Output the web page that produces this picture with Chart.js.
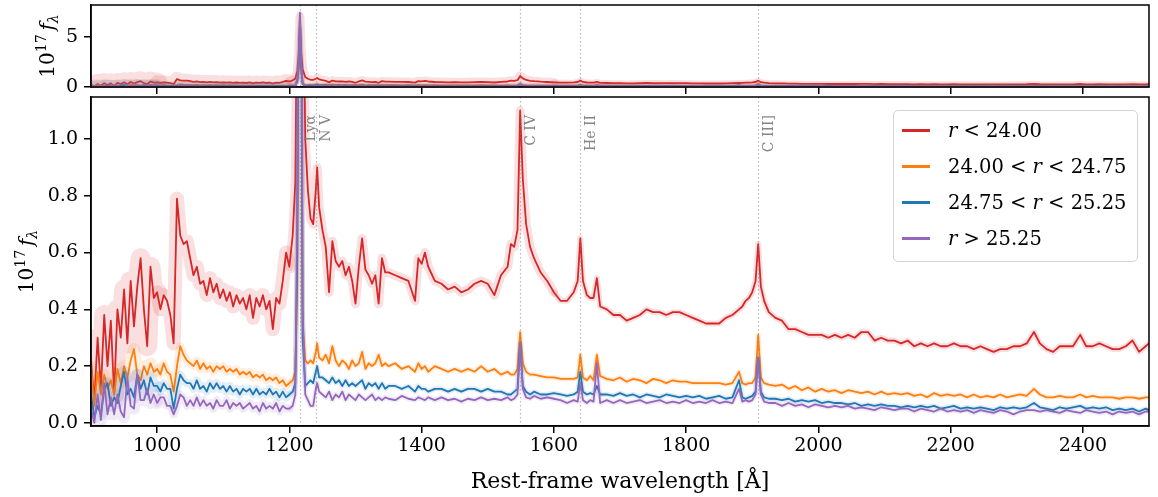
<!DOCTYPE html>
<html><head><meta charset="utf-8">
<script src="https://cdn.jsdelivr.net/npm/chart.js@4.4.1/dist/chart.umd.min.js"></script>
<style>
html,body{margin:0;padding:0;background:#fff;}
#wrap{position:relative;width:1158px;height:497px;overflow:hidden;}
canvas{position:absolute;left:0;top:0;}
#legend{position:absolute;left:893px;top:110px;width:245px;height:152px;border:1px solid #d4d4d4;border-radius:5px;background:rgba(255,255,255,0.85);font-family:"DejaVu Serif",serif;font-size:19.5px;color:#000;box-sizing:border-box;}
.row{position:absolute;left:0;height:24px;line-height:24px;white-space:nowrap;}
.sw{position:absolute;left:8px;top:10px;width:28px;height:3px;}
.tx{position:absolute;left:54px;top:0;word-spacing:0px;}
</style></head>
<body>
<div id="wrap">
<canvas id="main" width="1158" height="497"></canvas>
<canvas id="top" width="1158" height="96"></canvas>
<div id="legend"></div>
</div>
<script>
// ---- data (rest-frame wavelength in Angstrom, flux in 1e-17 units) ----
const wave = [
 900,905,910,915,920,925,930,935,940,945,950,955,960,965,970,975,980,985,990,995,
 1000,1005,1010,1015,1020,1025,1030,1035,1040,1045,1050,1055,1060,1065,1070,1075,1080,1085,1090,1095,
 1100,1105,1110,1115,1120,1125,1130,1135,1140,1145,1150,1155,1160,1165,1170,1175,1180,1185,1190,1195,1200,
 1205,1209,1212,1214,1216,1218,1220,1224,1228,1232,1236,1240,1242,1245,
 1250,1255,1260,1265,1270,1275,1280,1285,1290,1295,1300,1305,1310,1315,1320,1325,1330,1335,1340,1345,1350,
 1360,1370,1380,1390,1395,1400,1405,1410,1420,1430,1440,1450,1460,1470,1480,1490,1500,1510,1520,1530,
 1535,1540,1545,1549,1553,1558,1564,1570,1580,1590,1600,1610,1620,1630,
 1636,1640,1644,1650,1655,1660,1665,1670,1680,1690,1700,1710,1720,1730,1740,1750,1760,1770,1780,1790,
 1800,1810,1820,1830,1840,1850,1860,1870,1880,1885,1890,1895,1900,1905,1909,1913,1918,1925,
 1935,1945,1955,1965,1975,1985,1995,2005,2015,2025,2035,2045,2055,2065,2075,2085,2095,2105,2115,2125,
 2135,2145,2155,2165,2175,2185,2195,2205,2215,2225,2235,2245,2255,2265,2275,2285,2295,2305,2315,
 2326,2335,2345,2355,2365,2375,2385,2396,2405,2415,2425,2435,2445,2455,2465,2475,2485,2495,2500
];
const fluxBright = [
 0.22,0.08,0.30,0.12,0.38,0.20,0.36,0.10,0.40,0.30,0.47,0.28,0.50,0.34,0.48,0.58,0.40,0.27,0.55,0.44,
 0.46,0.40,0.45,0.43,0.38,0.28,0.79,0.66,0.63,0.64,0.58,0.52,0.55,0.49,0.50,0.45,0.51,0.46,0.49,0.44,
 0.47,0.43,0.46,0.41,0.45,0.42,0.44,0.40,0.45,0.37,0.44,0.41,0.45,0.40,0.43,0.33,0.44,0.42,0.50,0.60,0.55,
 0.66,0.85,1.6,3.2,7.0,3.4,1.8,1.0,0.82,0.72,0.70,0.82,0.90,0.76,
 0.68,0.62,0.46,0.64,0.57,0.55,0.57,0.52,0.55,0.50,0.42,0.55,0.65,0.54,0.52,0.49,0.52,0.42,0.58,0.53,0.53,
 0.52,0.51,0.50,0.43,0.58,0.56,0.60,0.55,0.50,0.49,0.47,0.48,0.46,0.47,0.49,0.50,0.49,0.45,0.52,0.55,
 0.63,0.62,0.68,1.10,0.86,0.70,0.62,0.58,0.53,0.50,0.46,0.43,0.43,0.46,
 0.50,0.65,0.50,0.45,0.44,0.44,0.51,0.41,0.40,0.38,0.38,0.36,0.37,0.38,0.40,0.39,0.39,0.38,0.39,0.39,
 0.38,0.37,0.36,0.35,0.35,0.35,0.37,0.38,0.40,0.41,0.43,0.44,0.46,0.50,0.63,0.48,0.43,0.39,
 0.37,0.36,0.33,0.33,0.32,0.31,0.31,0.31,0.30,0.31,0.30,0.31,0.30,0.32,0.32,0.29,0.30,0.29,0.29,0.28,
 0.29,0.27,0.28,0.27,0.28,0.27,0.27,0.28,0.27,0.27,0.26,0.27,0.26,0.25,0.26,0.26,0.27,0.27,0.28,
 0.32,0.28,0.26,0.25,0.27,0.27,0.27,0.31,0.27,0.27,0.28,0.27,0.26,0.26,0.27,0.29,0.25,0.27,0.28
];
const fluxMid1 = [
 0.20,0.06,0.18,0.10,0.17,0.12,0.15,0.10,0.19,0.14,0.20,0.16,0.22,0.26,0.17,0.15,0.20,0.17,0.21,0.18,
 0.19,0.17,0.21,0.18,0.17,0.11,0.20,0.27,0.24,0.22,0.21,0.20,0.22,0.19,0.21,0.19,0.20,0.18,0.20,0.19,
 0.20,0.18,0.19,0.18,0.19,0.17,0.18,0.17,0.18,0.16,0.17,0.16,0.17,0.15,0.16,0.15,0.16,0.14,0.15,0.13,0.14,
 0.15,0.18,0.5,1.6,5.0,1.5,0.35,0.22,0.21,0.22,0.21,0.25,0.28,0.23,
 0.22,0.24,0.21,0.27,0.22,0.20,0.22,0.21,0.19,0.22,0.20,0.21,0.25,0.19,0.21,0.20,0.21,0.24,0.20,0.21,0.20,
 0.21,0.19,0.20,0.18,0.21,0.19,0.20,0.18,0.20,0.19,0.18,0.19,0.18,0.19,0.18,0.20,0.18,0.19,0.17,0.18,
 0.17,0.17,0.19,0.32,0.21,0.18,0.17,0.17,0.165,0.16,0.16,0.155,0.155,0.155,
 0.16,0.24,0.16,0.15,0.165,0.15,0.24,0.165,0.155,0.15,0.16,0.145,0.155,0.15,0.14,0.155,0.15,0.14,0.15,0.145,
 0.145,0.14,0.14,0.14,0.14,0.14,0.135,0.14,0.18,0.14,0.135,0.14,0.14,0.16,0.31,0.16,0.14,0.135,
 0.13,0.135,0.12,0.13,0.115,0.125,0.11,0.12,0.11,0.115,0.105,0.115,0.11,0.105,0.11,0.10,0.11,0.10,0.105,0.10,
 0.105,0.095,0.10,0.09,0.105,0.095,0.10,0.095,0.10,0.09,0.10,0.09,0.095,0.09,0.10,0.09,0.095,0.10,0.095,
 0.12,0.10,0.09,0.09,0.095,0.09,0.09,0.10,0.09,0.095,0.09,0.09,0.09,0.085,0.09,0.09,0.085,0.09,0.09
];
const fluxMid2 = [
 0.10,0.02,0.06,0.03,0.12,0.14,0.06,0.09,0.07,0.13,0.18,0.10,0.12,0.09,0.17,0.12,0.15,0.10,0.16,0.13,
 0.13,0.11,0.14,0.12,0.12,0.05,0.12,0.17,0.15,0.14,0.14,0.12,0.15,0.12,0.13,0.11,0.14,0.12,0.14,0.12,
 0.13,0.11,0.13,0.11,0.12,0.10,0.12,0.11,0.12,0.10,0.12,0.10,0.11,0.10,0.12,0.10,0.11,0.09,0.11,0.09,0.10,
 0.11,0.14,0.6,2.0,5.8,1.8,0.3,0.13,0.14,0.15,0.14,0.18,0.20,0.16,
 0.16,0.15,0.14,0.16,0.14,0.15,0.13,0.15,0.13,0.14,0.13,0.14,0.15,0.12,0.14,0.13,0.14,0.12,0.14,0.12,0.13,
 0.13,0.12,0.13,0.11,0.13,0.12,0.12,0.11,0.12,0.12,0.11,0.12,0.11,0.12,0.12,0.11,0.12,0.11,0.11,0.10,
 0.10,0.11,0.12,0.28,0.13,0.11,0.10,0.11,0.10,0.10,0.105,0.10,0.095,0.10,
 0.11,0.18,0.11,0.10,0.105,0.10,0.13,0.10,0.10,0.095,0.105,0.095,0.10,0.09,0.10,0.095,0.09,0.10,0.095,0.09,
 0.095,0.09,0.095,0.085,0.09,0.095,0.085,0.09,0.15,0.09,0.085,0.09,0.095,0.11,0.23,0.11,0.09,0.085,
 0.085,0.08,0.085,0.075,0.08,0.075,0.08,0.07,0.075,0.07,0.07,0.065,0.07,0.06,0.065,0.06,0.065,0.06,0.06,0.055,
 0.06,0.055,0.06,0.055,0.06,0.05,0.055,0.06,0.05,0.055,0.05,0.055,0.05,0.045,0.055,0.05,0.055,0.05,0.055,
 0.07,0.055,0.05,0.045,0.055,0.05,0.055,0.06,0.05,0.055,0.05,0.055,0.045,0.05,0.045,0.05,0.04,0.05,0.045
];
const fluxFaint = [
 0.05,0.00,0.10,0.01,0.14,0.03,0.09,0.03,0.10,0.04,0.02,0.16,0.06,0.05,0.17,0.08,0.08,0.12,0.07,0.10,
 0.07,0.09,0.09,0.06,0.06,0.03,0.06,0.10,0.09,0.06,0.08,0.06,0.09,0.06,0.08,0.06,0.07,0.05,0.08,0.06,
 0.06,0.08,0.05,0.07,0.06,0.07,0.05,0.06,0.07,0.05,0.06,0.04,0.07,0.05,0.06,0.05,0.07,0.04,0.06,0.05,0.05,
 0.06,0.10,0.8,2.6,7.4,2.4,0.4,0.10,0.08,0.06,0.06,0.12,0.14,0.11,
 0.10,0.09,0.11,0.08,0.10,0.09,0.11,0.08,0.10,0.09,0.08,0.10,0.09,0.08,0.09,0.10,0.08,0.09,0.08,0.09,0.085,
 0.08,0.095,0.085,0.08,0.09,0.085,0.08,0.09,0.08,0.09,0.08,0.085,0.075,0.085,0.08,0.09,0.08,0.085,0.08,0.09,
 0.08,0.085,0.10,0.28,0.12,0.09,0.085,0.095,0.085,0.09,0.085,0.08,0.07,0.08,
 0.075,0.14,0.08,0.07,0.08,0.075,0.21,0.07,0.08,0.07,0.08,0.07,0.075,0.08,0.07,0.075,0.08,0.07,0.075,0.07,
 0.08,0.07,0.075,0.07,0.08,0.07,0.075,0.07,0.12,0.075,0.08,0.075,0.08,0.10,0.23,0.10,0.075,0.07,
 0.07,0.06,0.07,0.06,0.065,0.055,0.065,0.06,0.055,0.06,0.055,0.06,0.05,0.055,0.05,0.045,0.055,0.05,0.045,0.05,
 0.05,0.04,0.05,0.045,0.04,0.05,0.04,0.045,0.04,0.045,0.035,0.045,0.04,0.035,0.045,0.04,0.03,0.04,0.045,
 0.045,0.04,0.045,0.04,0.035,0.045,0.04,0.035,0.045,0.04,0.035,0.04,0.03,0.04,0.035,0.04,0.03,0.04,0.04
];
const seriesLabels = ['r < 24.00', '24.00 < r < 24.75', '24.75 < r < 25.25', 'r > 25.25'];
const lineNames = ['Lyα', 'N V', 'C IV', 'He II', 'C III]'];
const lineWaves = [1216, 1240, 1549, 1640, 1909];
const xTicks = [1000, 1200, 1400, 1600, 1800, 2000, 2200, 2400];
const yTicksMain = [0.0, 0.2, 0.4, 0.6, 0.8, 1.0];
const yTicksTop = [0, 5];

[fluxBright, fluxMid1, fluxMid2, fluxFaint].forEach((a, i) => {
  if (a.length !== wave.length) console.error('length mismatch', i, a.length, wave.length);
});

// ---- styling ----
const colors = ['#d62728', '#ff7f0e', '#1f77b4', '#9467bd'];
const bandColors = ['rgba(214,39,40,0.15)', 'rgba(255,127,14,0.13)', 'rgba(31,119,180,0.13)', 'rgba(148,103,189,0.13)'];
const bandWidths = [[20, 14, 9, 6], [12, 8, 5, 5], [12, 8, 5, 5], [12, 8, 5, 5]];
const FONT = '"DejaVu Serif", serif';

function bandW(x, w) {
  if (x < 1000) return w[0];
  if (x < 1200) return w[1];
  if (x < 1600) return w[2];
  return w[3];
}

function buildDatasets() {
  const all = [fluxBright, fluxMid1, fluxMid2, fluxFaint];
  const ds = [];
  let order = 20;
  all.forEach((flux, k) => {
    const pts = wave.map((w, i) => ({x: w, y: flux[i]}));
    ds.push({
      label: seriesLabels[k] + ' (band)', data: pts, borderColor: bandColors[k],
      borderWidth: bandWidths[k][3], pointRadius: 0, order: order--, clip: 0,
      borderJoinStyle: 'round', borderCapStyle: 'round',
      segment: {borderWidth: c => bandW(c.p0.parsed.x, bandWidths[k])}
    });
    ds.push({
      label: seriesLabels[k], data: pts, borderColor: colors[k], borderWidth: 1.8,
      pointRadius: 0, order: order--, clip: 0, borderJoinStyle: 'round'
    });
  });
  return ds;
}

const framePlugin = {
  id: 'frame',
  afterDatasetsDraw(chart, args, opts) {
    const {ctx, chartArea: a, scales: {x}} = chart;
    ctx.save();
    ctx.beginPath();
    ctx.rect(a.left, a.top, a.right - a.left, a.bottom - a.top);
    ctx.clip();
    ctx.setLineDash([1.5, 2.5]);
    ctx.strokeStyle = 'rgba(128,128,128,0.55)';
    ctx.lineWidth = 1.2;
    lineWaves.forEach(w => {
      const px = Math.round(x.getPixelForValue(w)) + 0.5;
      ctx.beginPath(); ctx.moveTo(px, a.top); ctx.lineTo(px, a.bottom); ctx.stroke();
    });
    ctx.restore();
    if (opts.labels) {
      ctx.save();
      ctx.fillStyle = 'rgba(128,128,128,0.95)';
      ctx.font = '14px ' + FONT;
      lineWaves.forEach((w, i) => {
        const px = x.getPixelForValue(w);
        ctx.save();
        ctx.translate(px + 4, a.top + 18);
        ctx.rotate(-Math.PI / 2);
        ctx.textAlign = 'right';
        ctx.textBaseline = 'top';
        ctx.fillText(lineNames[i], 0, 0);
        ctx.restore();
      });
      ctx.restore();
    }
  },
  afterDraw(chart, args, opts) {
    const {ctx, chartArea: a} = chart;
    ctx.save();
    ctx.strokeStyle = '#000';
    ctx.lineWidth = 1.5;
    ctx.setLineDash([]);
    ctx.strokeRect(a.left, a.top, a.right - a.left, a.bottom - a.top);
    // y-axis title: 10^17 f_lambda
    const parts = [
      {t: '10', f: '20px ' + FONT, dy: 0},
      {t: '17', f: '14px ' + FONT, dy: -8},
      {t: ' ', f: '12px ' + FONT, dy: 0},
      {t: 'f', f: 'italic 20px ' + FONT, dy: 0},
      {t: 'λ', f: 'italic 14px ' + FONT, dy: 4}
    ];
    let total = 0;
    parts.forEach(p => { ctx.font = p.f; p.w = ctx.measureText(p.t).width; total += p.w; });
    ctx.translate(opts.bx, (a.top + a.bottom) / 2);
    ctx.rotate(-Math.PI / 2);
    ctx.fillStyle = '#000';
    ctx.textBaseline = 'alphabetic';
    ctx.textAlign = 'left';
    let cx = -total / 2;
    parts.forEach(p => { ctx.font = p.f; ctx.fillText(p.t, cx, p.dy); cx += p.w; });
    ctx.restore();
  }
};

function axisCommon() {
  return {
    grid: {display: true, drawOnChartArea: false, drawTicks: true, tickLength: 7, lineWidth: 1.5, color: '#000'},
    border: {display: true, color: '#000', width: 1.5}
  };
}
function noPad(s) { s.paddingTop = 0; s.paddingBottom = 0; s.paddingLeft = 0; s.paddingRight = 0; }

const tickFont = {family: FONT, size: 19};

// main (lower) panel
new Chart(document.getElementById('main'), {
  type: 'line',
  data: {datasets: buildDatasets()},
  options: {
    responsive: false, animation: false, events: [],
    layout: {padding: {top: 97, right: 9, left: 0, bottom: 0}},
    plugins: {legend: {display: false}, tooltip: {enabled: false}, frame: {labels: true, bx: 33}},
    scales: {
      x: Object.assign(axisCommon(), {
        type: 'linear', min: 900, max: 2500,
        afterBuildTicks: s => { s.ticks = xTicks.map(v => ({value: v})); },
        afterFit: s => { s.height = 497 - 426; noPad(s); },
        ticks: {font: tickFont, color: '#000', padding: 2, maxRotation: 0, autoSkip: false, callback: v => String(v)},
        title: {display: true, text: 'Rest-frame wavelength [Å]', color: '#000', font: {family: FONT, size: 22}, padding: {top: 0, bottom: 2}}
      }),
      y: Object.assign(axisCommon(), {
        type: 'linear', min: -0.011, max: 1.148,
        afterBuildTicks: s => { s.ticks = yTicksMain.map(v => ({value: v})); },
        afterFit: s => { s.width = 91; noPad(s); },
        ticks: {font: tickFont, color: '#000', padding: 6, callback: v => Number(v).toFixed(1)}
      })
    }
  },
  plugins: [framePlugin]
});

// top (overview) panel
new Chart(document.getElementById('top'), {
  type: 'line',
  data: {datasets: buildDatasets()},
  options: {
    responsive: false, animation: false, events: [],
    layout: {padding: {top: 5, right: 9, left: 0, bottom: 0}},
    plugins: {legend: {display: false}, tooltip: {enabled: false}, frame: {labels: false, bx: 54}},
    scales: {
      x: Object.assign(axisCommon(), {
        type: 'linear', min: 900, max: 2500,
        afterBuildTicks: s => { s.ticks = xTicks.map(v => ({value: v})); },
        afterFit: s => { s.height = 96 - 87; noPad(s); },
        ticks: {display: false}
      }),
      y: Object.assign(axisCommon(), {
        type: 'linear', min: 0, max: 8.17,
        afterBuildTicks: s => { s.ticks = yTicksTop.map(v => ({value: v})); },
        afterFit: s => { s.width = 91; noPad(s); },
        ticks: {font: tickFont, color: '#000', padding: 6, callback: v => String(v)}
      })
    }
  },
  plugins: [framePlugin]
});

// legend (HTML overlay, built from the series labels/colours)
const legendEl = document.getElementById('legend');
const rowCenters = [20, 56, 92, 128];
seriesLabels.forEach((lab, i) => {
  const row = document.createElement('div');
  row.className = 'row';
  row.style.top = (rowCenters[i] - 12) + 'px';
  const sw = document.createElement('div');
  sw.className = 'sw';
  sw.style.background = colors[i];
  const tx = document.createElement('div');
  tx.className = 'tx';
  tx.innerHTML = lab.replace('r', '<i>r</i>').replace(/ < /g, ' &lt; ').replace(/ > /g, ' &gt; ');
  row.appendChild(sw); row.appendChild(tx);
  legendEl.appendChild(row);
});
</script>
</body></html>
